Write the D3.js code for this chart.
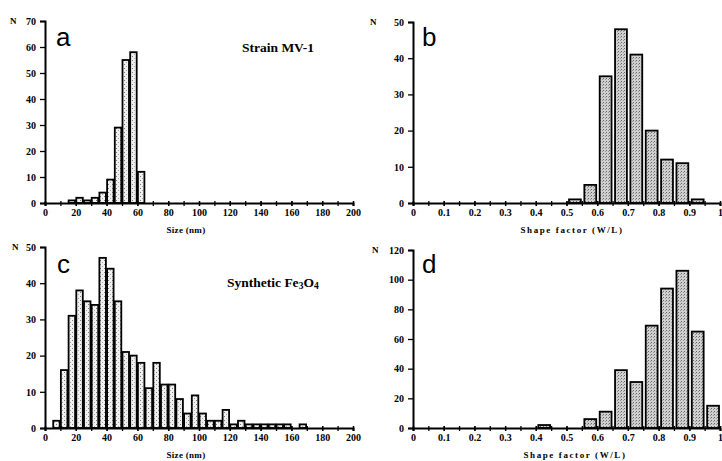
<!DOCTYPE html>
<html>
<head>
<meta charset="utf-8">
<title>Size and shape factor distributions</title>
<style>
  body { margin: 0; background: #fff; }
  svg text { font-family: "Liberation Serif", "DejaVu Serif", serif; font-weight: bold; fill: #000; }
  .axis text { font-size: 10px; }
  .axis path, .axis line { stroke: #000; }
  .axis path { stroke-width: 2; }
  .axis line { stroke-width: 1.3; }
  .letter { font-family: "Liberation Sans", Arial, sans-serif !important; font-weight: normal !important; font-size: 26px; }
  .ntag { font-size: 9px; }
  .xtitle { font-size: 9px; }
  .title { font-size: 13.5px; }
  .bar { stroke: #000; stroke-width: 1.8; }
</style>
</head>
<body>
<script src="https://cdn.jsdelivr.net/npm/d3@7/dist/d3.min.js"></script>
<script>
// bin starts and counts
var sizeBinsA = [15, 20, 25, 30, 35, 40, 45, 50, 55, 60];
var countsA = [1, 2, 1, 2, 4, 9, 29, 55, 58, 12];

var shapeBinsB = [0.50, 0.55, 0.60, 0.65, 0.70, 0.75, 0.80, 0.85, 0.90];
var countsB = [1, 5, 35, 48, 41, 20, 12, 11, 1];

var sizeBinsC = [5, 10, 15, 20, 25, 30, 35, 40, 45, 50, 55, 60, 65, 70, 75, 80, 85, 90, 95, 100,
  105, 110, 115, 120, 125, 130, 135, 140, 145, 150, 155, 160, 165];
var countsC = [2, 16, 31, 38, 35, 34, 47, 44, 35, 21, 20, 18, 11, 18, 12, 12, 8, 4, 9, 4,
  2, 2, 5, 1, 2, 1, 1, 1, 1, 1, 1, 0, 1];

var shapeBinsD = [0.40, 0.45, 0.50, 0.55, 0.60, 0.65, 0.70, 0.75, 0.80, 0.85, 0.90, 0.95];
var countsD = [2, 0, 0, 6, 11, 39, 31, 69, 94, 106, 65, 15];

var sizeTicks = [0, 20, 40, 60, 80, 100, 120, 140, 160, 180, 200];
var shapeTicks = [0, 0.1, 0.2, 0.3, 0.4, 0.5, 0.6, 0.7, 0.8, 0.9, 1];
var shapeTickLabels = ["0", "0.1", "0.2", "0.3", "0.4", "0.5", "0.6", "0.7", "0.8", "0.9", "1"];

var W = 722, H = 461;
var svg = d3.select("body").append("svg").attr("width", W).attr("height", H);

// stipple fills
var defs = svg.append("defs");
var p1 = defs.append("pattern").attr("id", "dotsDark").attr("patternUnits", "userSpaceOnUse")
  .attr("width", 3).attr("height", 3);
p1.append("rect").attr("width", 3).attr("height", 3).attr("fill", "#d0d0d0");
p1.append("rect").attr("x", 0).attr("y", 0).attr("width", 1).attr("height", 1).attr("fill", "#666");
p1.append("rect").attr("x", 2).attr("y", 1).attr("width", 1).attr("height", 1).attr("fill", "#949494");
var p2 = defs.append("pattern").attr("id", "dotsLight").attr("patternUnits", "userSpaceOnUse")
  .attr("width", 4).attr("height", 4);
p2.append("rect").attr("width", 4).attr("height", 4).attr("fill", "#f0f0f0");
p2.append("rect").attr("x", 0).attr("y", 0).attr("width", 1).attr("height", 1).attr("fill", "#7a7a7a");
p2.append("rect").attr("x", 2).attr("y", 2).attr("width", 1).attr("height", 1).attr("fill", "#a8a8a8");

var panels = [
  { letter: "a", bins: sizeBinsA, counts: countsA, binW: 5, kind: "size", yMax: 70, yStep: 10,
    left: 45, right: 353, top: 21, bottom: 203, fill: "url(#dotsLight)", nx: 10,
    xtitle: "Size (nm)", xtx: 186, title: "Strain MV-1", tx: 242, ty: 52, lx: 56, ly: 46 },
  { letter: "b", bins: shapeBinsB, counts: countsB, binW: 0.05, kind: "shape", yMax: 50, yStep: 10,
    left: 413, right: 720, top: 22, bottom: 203, fill: "url(#dotsDark)", nx: 370,
    xtitle: "Shape factor (W/L)", xtx: 572, lx: 422, ly: 46 },
  { letter: "c", bins: sizeBinsC, counts: countsC, binW: 5, kind: "size", yMax: 50, yStep: 10,
    left: 45, right: 353, top: 247, bottom: 428, fill: "url(#dotsLight)", nx: 12,
    xtitle: "Size (nm)", xtx: 186, title: "Synthetic Fe3O4", tx: 227, ty: 287, lx: 57, ly: 273 },
  { letter: "d", bins: shapeBinsD, counts: countsD, binW: 0.05, kind: "shape", yMax: 120, yStep: 20,
    left: 413, right: 720, top: 250, bottom: 428, fill: "url(#dotsDark)", nx: 372,
    xtitle: "Shape factor (W/L)", xtx: 575, lx: 422, ly: 273 }
];

panels.forEach(drawPanel);

function drawPanel(p) {
  var g = svg.append("g");
  var xMax = p.kind === "size" ? 200 : 1;
  var x = d3.scaleLinear().domain([0, xMax]).range([p.left, p.right]);
  var y = d3.scaleLinear().domain([0, p.yMax]).range([p.bottom, p.top]);

  var inset = p.kind === "size" ? 0.5 : 2.5;
  var gap = p.kind === "size" ? 1.2 : 3.5;

  var rows = p.bins.map(function (b, i) { return { b: b, n: p.counts[i] }; })
    .filter(function (d) { return d.n > 0; });

  g.selectAll("rect.bar")
    .data(rows)
    .join("rect")
    .attr("class", "bar")
    .attr("x", function (d) { return x(d.b) + inset; })
    .attr("width", function (d) { return x(d.b + p.binW) - x(d.b) - gap; })
    .attr("y", function (d) { return y(d.n); })
    .attr("height", function (d) { return y(0) - y(d.n); })
    .attr("fill", p.fill);

  // x axis: minor ticks, then labelled ticks
  var minorStep = p.kind === "size" ? 10 : 0.05;
  var minor = d3.range(0, xMax + minorStep / 2, minorStep);
  var majorVals = p.kind === "size" ? sizeTicks : shapeTicks;
  var xAxis = g.append("g")
    .attr("class", "axis")
    .attr("transform", "translate(0," + p.bottom + ")")
    .call(d3.axisBottom(x).tickValues(minor).tickFormat("").tickSizeOuter(0).tickSize(3));
  xAxis.selectAll(".tick line").attr("y1", -2);
  var xLab = g.append("g")
    .attr("class", "axis")
    .attr("transform", "translate(0," + p.bottom + ")")
    .call(d3.axisBottom(x).tickValues(majorVals)
      .tickFormat(function (d, i) { return p.kind === "size" ? d : shapeTickLabels[i]; })
      .tickSizeOuter(0).tickSize(3).tickPadding(3));
  xLab.select(".domain").remove();
  xLab.selectAll(".tick line").attr("y1", -2);

  // y axis
  var yTicks = d3.range(0, p.yMax + 1, p.yStep);
  g.append("g")
    .attr("class", "axis")
    .attr("transform", "translate(" + p.left + ",0)")
    .call(d3.axisLeft(y).tickValues(yTicks).tickSizeOuter(0).tickSize(5).tickPadding(4));

  g.append("text").attr("class", "ntag")
    .attr("x", p.nx).attr("y", p.top + 3).text("N");

  g.append("text").attr("class", "letter")
    .attr("x", p.lx).attr("y", p.ly).text(p.letter);

  g.append("text").attr("class", "xtitle")
    .attr("x", p.xtx).attr("y", p.bottom + 30)
    .attr("text-anchor", "middle")
    .attr("letter-spacing", p.kind === "shape" ? 1.6 : 0.3)
    .text(p.xtitle);

  if (p.title) {
    var t = g.append("text").attr("class", "title").attr("x", p.tx).attr("y", p.ty);
    if (p.title === "Synthetic Fe3O4") {
      t.append("tspan").text("Synthetic Fe");
      t.append("tspan").attr("font-size", "9.5px").attr("dy", 2).text("3");
      t.append("tspan").attr("dy", -2).text("O");
      t.append("tspan").attr("font-size", "9.5px").attr("dy", 2).text("4");
    } else {
      t.text(p.title);
    }
  }
}
</script>
</body>
</html>
